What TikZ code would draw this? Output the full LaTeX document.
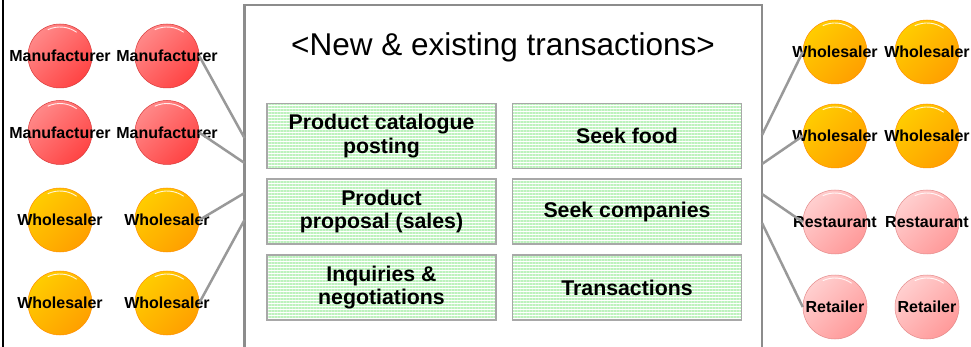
\documentclass[tikz,border=0pt]{standalone}
\usepackage{fontspec}
\setmainfont{Liberation Sans}
\usetikzlibrary{patterns.meta}
\definecolor{redA}{HTML}{FF8888}
\definecolor{redB}{HTML}{FF4444}
\definecolor{orA}{HTML}{FFCC00}
\definecolor{orB}{HTML}{FFA000}
\definecolor{pkA}{HTML}{FFCFCF}
\definecolor{pkB}{HTML}{FF9A9A}
\definecolor{conn}{HTML}{999999}
\definecolor{framegray}{HTML}{8C8C8C}
\definecolor{boxline}{HTML}{A8A8A8}
\definecolor{stripe}{HTML}{BDF2BD}
\tikzset{
  ball/.style={circle, minimum size=64pt, inner sep=0pt, line width=0.5pt,
    path picture={\draw[white, line width=0.9pt, opacity=0.85]
      (path picture bounding box.center) ++(55:29pt) arc[start angle=55, end angle=115, radius=29pt];}},
  mfr/.style={ball, top color=redA, bottom color=redB, shading angle=45, draw=redB!85!black},
  whs/.style={ball, top color=orA, bottom color=orB, shading angle=45, draw=orB!90!red},
  pnk/.style={ball, top color=pkA, bottom color=pkB, shading angle=45, draw=pkB!90!black},
  lab/.style={font=\fontsize{16}{18}\selectfont\bfseries, inner sep=0pt},
  task/.style={draw=boxline, line width=1.5pt,
    pattern={Lines[angle=0, distance=3pt, line width=1.5pt]}, pattern color=stripe,
    minimum width=229pt, minimum height=65pt, align=center, inner sep=0pt,
    font=\fontsize{21.3}{23.5}\selectfont\bfseries},
  connector/.style={draw=conn, line width=2.5pt},
  mainframe/.style={draw=framegray, line width=2.5pt},
}
\newcommand{\actor}[5]{%
  \node[#4] (#1) at (#2,#3) {};
  \node[lab] (#1-t) at (#1) {#5};
}
\begin{document}
\begin{tikzpicture}[x=1pt, y=-1pt]
\useasboundingbox (0,0) rectangle (971,347);
\fill[white] (0,0) rectangle (971,347);
% left page edge
\coordinate (edgeT) at (3,0);
\coordinate (edgeB) at (3,347);
\draw[black, line width=2pt] (edgeT) -- (edgeB);
% main frame
\coordinate (fBL) at (244.5,352);
\coordinate (fTL) at (244.5,5);
\coordinate (fTR) at (762,5);
\coordinate (fBR) at (762,352);
\draw[mainframe] (fBL) -- (fTL) -- (fTR) -- (fBR);
\node[font=\fontsize{31.5}{36}\selectfont, inner sep=0pt] (title) at (503,47) {<New \& existing transactions>};
% tasks
\node[task] (t1) at (381.5,136) {Product catalogue\\posting};
\node[task] (t2) at (381.5,211.5) {Product\\proposal (sales)};
\node[task] (t3) at (381.5,287.5) {Inquiries \&\\negotiations};
\node[task] (t4) at (627,136) {Seek food};
\node[task] (t5) at (627,211.5) {Seek companies};
\node[task] (t6) at (627,287.5) {Transactions};
% left actors
\actor{m1}{60}{56}{mfr}{Manufacturer}
\actor{m2}{167}{56}{mfr}{Manufacturer}
\actor{m3}{60}{132.5}{mfr}{Manufacturer}
\actor{m4}{167}{132.5}{mfr}{Manufacturer}
\actor{w1}{60}{220}{whs}{Wholesaler}
\actor{w2}{167}{220}{whs}{Wholesaler}
\actor{w3}{60}{303}{whs}{Wholesaler}
\actor{w4}{167}{303}{whs}{Wholesaler}
% right actors
\actor{rw1}{835}{52}{whs}{Wholesaler}
\actor{rw2}{927}{52}{whs}{Wholesaler}
\actor{rw3}{835}{136}{whs}{Wholesaler}
\actor{rw4}{927}{136}{whs}{Wholesaler}
\actor{rs1}{835}{222}{pnk}{Restaurant}
\actor{rs2}{927}{222}{pnk}{Restaurant}
\actor{rt1}{835}{307}{pnk}{Retailer}
\actor{rt2}{927}{307}{pnk}{Retailer}
% connector endpoints on frame
\coordinate (L1) at (244.5,138);
\coordinate (L2) at (244.5,163);
\coordinate (L3) at (244.5,193);
\coordinate (L4) at (244.5,220);
\coordinate (R1) at (762,135);
\coordinate (R2) at (762,164);
\coordinate (R3) at (762,194);
\coordinate (R4) at (762,223);
\draw[connector] (m2.east) -- (L1);
\draw[connector] (m4.east) -- (L2);
\draw[connector] (w2.east) -- (L3);
\draw[connector] (w4.east) -- (L4);
\draw[connector] (R1) -- (rw1.west);
\draw[connector] (R2) -- (rw3.west);
\draw[connector] (R3) -- (rs1.west);
\draw[connector] (R4) -- (rt1.west);
\end{tikzpicture}
\end{document}
